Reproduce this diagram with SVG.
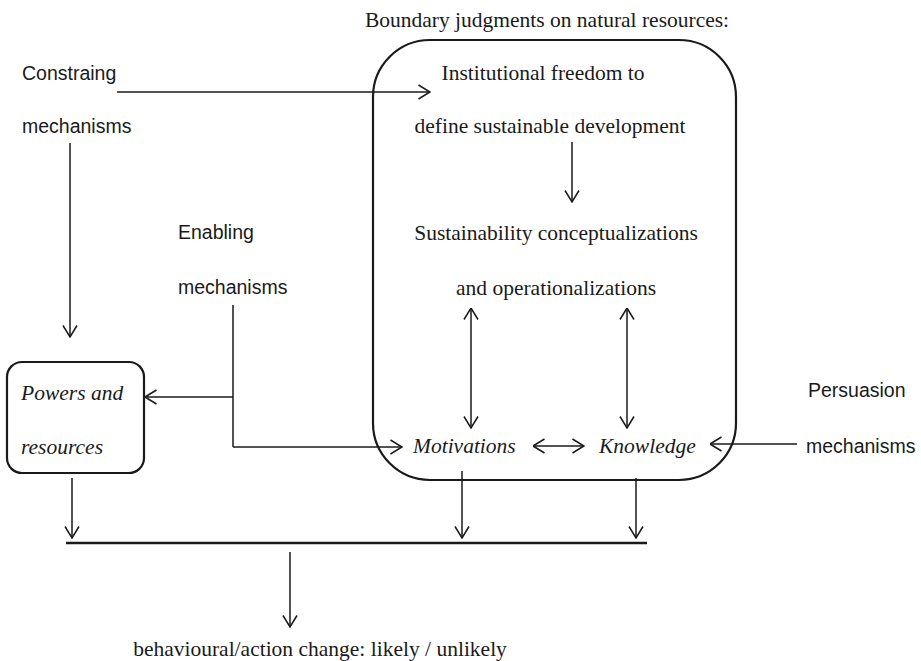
<svg xmlns="http://www.w3.org/2000/svg" width="921" height="661" viewBox="0 0 921 661">
<style>
.serif{font-family:"Liberation Serif","Times New Roman",serif;font-size:21.5px;fill:#1a1a1a}
.it{font-style:italic}
.sans{font-family:"Liberation Sans",Arial,sans-serif;font-size:19.5px;fill:#1a1a1a}
.box{fill:none;stroke:#1a1a1a;stroke-width:2.2}
.ln{fill:none;stroke:#1a1a1a;stroke-width:1.5}
.arr{marker-end:url(#ah)}
.dbl{marker-start:url(#ah);marker-end:url(#ah)}
</style>
<defs>
<marker id="ah" viewBox="0 0 13 16" refX="12.5" refY="8" markerWidth="13" markerHeight="16" markerUnits="userSpaceOnUse" orient="auto-start-reverse">
<path d="M1,1 L12.5,8 L1,15" fill="none" stroke="#1a1a1a" stroke-width="1.5"/>
</marker>
</defs>
<rect width="921" height="661" fill="#fff"/>

<g id="boundary">
<text class="serif" x="547" y="27" text-anchor="middle">Boundary judgments on natural resources:</text>
<rect class="box" x="373" y="40" width="363" height="440" rx="57" ry="57"/>
</g>
<g id="institutional">
<text class="serif" x="543" y="80" text-anchor="middle">Institutional freedom to</text>
<text class="serif" x="550" y="133" text-anchor="middle">define sustainable development</text>
</g>
<g id="sustainability">
<text class="serif" x="556" y="240" text-anchor="middle">Sustainability conceptualizations</text>
<text class="serif" x="556" y="295" text-anchor="middle">and operationalizations</text>
</g>
<g id="motivations">
<text class="serif it" x="413" y="453">Motivations</text>
</g>
<g id="knowledge">
<text class="serif it" x="599" y="453">Knowledge</text>
</g>
<g id="constraining">
<text class="sans" x="22" y="80">Constraing</text>
<text class="sans" x="22" y="133">mechanisms</text>
</g>
<g id="enabling">
<text class="sans" x="178" y="239">Enabling</text>
<text class="sans" x="178" y="294">mechanisms</text>
</g>
<g id="persuasion">
<text class="sans" x="808" y="397">Persuasion</text>
<text class="sans" x="806" y="453">mechanisms</text>
</g>
<g id="powers">
<rect class="box" x="7" y="362" width="137" height="111" rx="15" ry="15"/>
<text class="serif it" x="21" y="400">Powers and</text>
<text class="serif it" x="21" y="454">resources</text>
</g>
<g id="outcome">
<text class="serif" x="320" y="656" text-anchor="middle">behavioural/action change: likely / unlikely</text>
</g>

<g id="connectors">
<line class="ln arr" x1="117" y1="92" x2="430" y2="92"/>
<line class="ln arr" x1="70" y1="143" x2="70" y2="337"/>
<line class="ln arr" x1="572" y1="142" x2="572" y2="202"/>
<line class="ln dbl" x1="471" y1="308" x2="471" y2="428"/>
<line class="ln dbl" x1="627" y1="308" x2="627" y2="428"/>
<line class="ln dbl" x1="533" y1="446" x2="584" y2="446"/>
<polyline class="ln" points="233,305 233,447"/>
<line class="ln arr" x1="233" y1="397" x2="145" y2="397"/>
<line class="ln arr" x1="233" y1="447" x2="402" y2="447"/>
<line class="ln arr" x1="797" y1="444" x2="710" y2="444"/>
<line class="ln arr" x1="72" y1="478" x2="72" y2="538"/>
<line class="ln arr" x1="462" y1="471" x2="462" y2="538"/>
<line class="ln arr" x1="636" y1="478" x2="636" y2="538"/>
<line x1="66" y1="543" x2="647" y2="543" stroke="#1a1a1a" stroke-width="2.5"/>
<line class="ln arr" x1="290" y1="552" x2="290" y2="627"/>
</g>
</svg>
